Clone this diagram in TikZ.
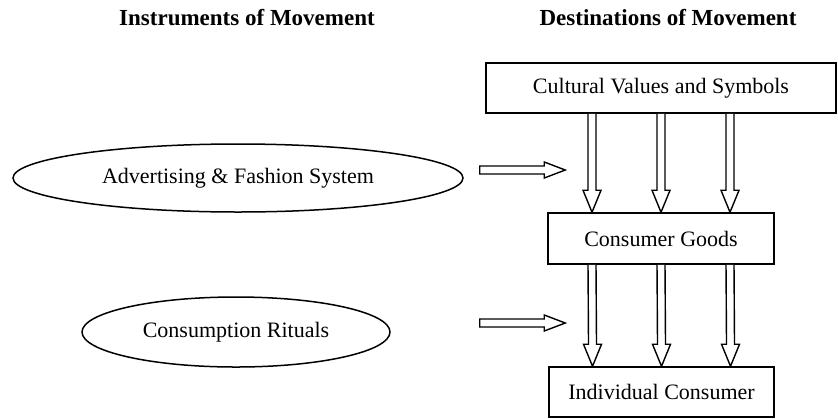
\documentclass[tikz,border=0pt]{standalone}
\usepackage{fontspec}
\setmainfont{Liberation Serif}
\usetikzlibrary{shapes.geometric,calc}

\tikzset{
	title/.style={font=\fontsize{11.5}{13}\selectfont\bfseries},
	valbox/.style={draw,line width=0.75pt,inner sep=0pt,font=\fontsize{11}{13}\selectfont},
	ritual/.style={draw,ellipse,line width=0.75pt,inner sep=0pt,font=\fontsize{11}{13}\selectfont},
	hollow/.style={draw,fill=white,line width=0.7pt,line join=miter}
}

% hollow block arrows, pixel units
\newcommand{\hollowdown}[2]{%
	\path #1 coordinate (tail) #2 coordinate (tip);
	\draw[hollow] ($(tail)+(-4,0)$) -- ($(tip)+(-4,-22)$) -- ($(tip)+(-9,-22)$) -- (tip)
		-- ($(tip)+(9,-22)$) -- ($(tip)+(4,-22)$) -- ($(tail)+(4,0)$);
}
\newcommand{\hollowright}[2]{%
	\path #1 coordinate (tail) #2 coordinate (tip);
	\draw[hollow] ($(tail)+(0,-4)$) -- ($(tip)+(-21,-4)$) -- ($(tip)+(-21,-8)$) -- (tip)
		-- ($(tip)+(-21,8)$) -- ($(tip)+(-21,4)$) -- ($(tail)+(0,4)$) -- cycle;
}

\begin{document}
\begin{tikzpicture}[x=0.5pt,y=-0.5pt]
	\useasboundingbox (0,0) rectangle (838,418);
	
	\node[title] (instr) at (247,18) {Instruments of Movement};
	\node[title] (dest) at (668,18) {Destinations of Movement};
	
	\node[valbox,minimum width=175pt,minimum height=25pt] (values) at (661,88) {Cultural Values and Symbols};
	\node[valbox,minimum width=113pt,minimum height=25.5pt] (goods) at (661,238.5) {Consumer Goods};
	\node[valbox,minimum width=112.5pt,minimum height=25pt] (consumer) at (661.5,392) {Individual Consumer};
	
	\node[ritual,minimum width=225pt,minimum height=34pt] (advert) at (238,178) {Advertising \& Fashion System};
	\node[ritual,minimum width=154pt,minimum height=35pt] (rituals) at (236,332) {Consumption Rituals};
	
	\foreach \dx in {-69,0,69}
	\hollowdown{($(values.south)+(\dx,0)$)}{($(goods.north)+(\dx,0)$)};
	\foreach \dx in {-69,0,69}
	\hollowdown{($(goods.south)+(\dx,0)$)}{($(consumer.north)+(\dx,0)$)};
	
	\hollowright{($(advert.east)+(16,-8)$)}{($(goods.west|-advert.east)+(18,-8)$)};
	\hollowright{($(advert.east|-rituals.east)+(16,-9)$)}{($(goods.west|-rituals.east)+(18,-9)$)};
\end{tikzpicture}
\end{document}
